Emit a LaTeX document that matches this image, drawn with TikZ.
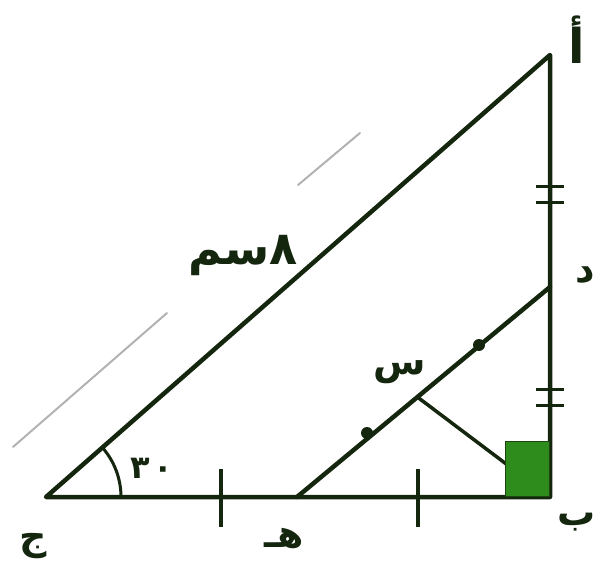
\documentclass[tikz,border=0pt]{standalone}
\usepackage{fontspec}
\usetikzlibrary{calc}
\newfontfamily\arabicfont[Script=Arabic]{DejaVu Sans}
\TeXXeTstate=1
\definecolor{ink}{HTML}{14260E}
\definecolor{sqgreen}{HTML}{2E8C1C}
\begin{document}
\begin{tikzpicture}[x=1pt,y=-1pt,
  edge/.style={draw=ink,line width=4.5pt,line cap=round,line join=round},
  thin edge/.style={draw=ink,line width=3.5pt},
  faint/.style={draw=black!30,line width=2pt,line cap=round},
  lbl/.style={font=\arabicfont\bfseries\fontsize{38}{38}\selectfont,text=ink,inner sep=0pt},
  dotmark/.style={circle,fill=ink,inner sep=0pt,minimum size=12pt}]
\useasboundingbox (0,0) rectangle (608,577);
\coordinate (A) at (550,55);
\coordinate (B) at (550,497);
\coordinate (C) at (46,497);
\coordinate (D) at (550,287);
\coordinate (E) at (297,497);
\coordinate (S) at (416,396);
% faint line parallel to hypotenuse
\coordinate (f1) at (13,447);
\coordinate (f2) at (167,313);
\coordinate (f3) at (298,185);
\coordinate (f4) at (360,133);
\draw[faint] (f1) -- (f2);
\draw[faint] (f3) -- (f4);
% main triangle
\draw[edge] (A) -- (B) -- (C) -- cycle;
\draw[edge] (E) -- (D);
\draw[thin edge] (S) -- (B);
% right angle mark
\fill[sqgreen,draw=ink!70!sqgreen,line width=1pt] (505,441) rectangle (549,496);
% angle arc at C
\draw[ink,line width=3pt] ($(C)+(75,0)$) arc[start angle=0,end angle=-41,radius=75];
% ticks on BC
\coordinate (t1) at (221,497);
\coordinate (t2) at (418,497);
\draw[thin edge] ($(t1)+(0,-28)$) -- ($(t1)+(0,30)$);
\draw[thin edge] ($(t2)+(0,-28)$) -- ($(t2)+(0,30)$);
% double ticks on AB
\coordinate (u1) at (550,195);
\coordinate (u2) at (550,397);
\foreach \p in {u1,u2}{
  \draw[ink,line width=3pt] ($(\p)+(-14,-8)$) -- ($(\p)+(14,-8)$);
  \draw[ink,line width=3pt] ($(\p)+(-14,8)$) -- ($(\p)+(14,8)$);
}
% dots on DE
\node[dotmark] (m1) at (367,433) {};
\node[dotmark] (m2) at (479,345) {};
% labels
\node[lbl,font=\arabicfont\bfseries\fontsize{48}{48}\selectfont] (la) at (577,40) {أ};
\node[lbl] (lb) at (577,522) {ب};
\node[lbl] (lc) at (33,546) {ج};
\node[lbl] (le) at (284,538) {\beginR هـ\endR};
\node[lbl] (ld) at (585,275) {د};
\node[lbl] (ls) at (400,372) {س};
\node[lbl,font=\arabicfont\bfseries\fontsize{46}{46}\selectfont] (len) at (243,256) {\beginR سم\endR٨};
\node[lbl,font=\arabicfont\bfseries\fontsize{32}{32}\selectfont] (ang) at (152,468) {٣\hspace{4pt}٠};
\end{tikzpicture}
\end{document}
